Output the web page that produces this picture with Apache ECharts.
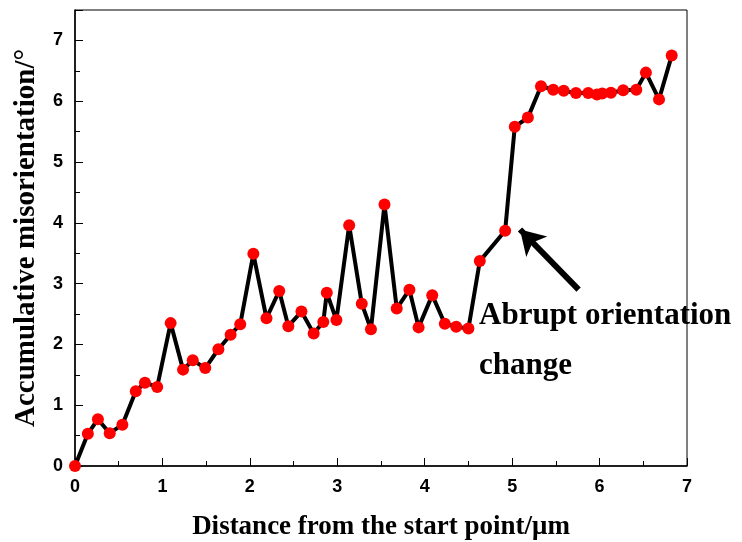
<!DOCTYPE html>
<html>
<head>
<meta charset="utf-8">
<script src="https://cdn.jsdelivr.net/npm/echarts@6/dist/echarts.min.js"></script>
<style>
  html, body { margin: 0; padding: 0; background: #fff; }
  #chart { width: 742px; height: 542px; }
</style>
</head>
<body>
<div id="chart"></div>
<script>
// distance from the start point (um)
var distance = [0, 0.147, 0.262, 0.397, 0.542, 0.695, 0.80, 0.94, 1.094, 1.236,
  1.347, 1.49, 1.64, 1.78, 1.89, 2.04, 2.19, 2.336, 2.44, 2.59,
  2.73, 2.84, 2.88, 2.99, 3.136, 3.28, 3.385, 3.54, 3.68, 3.825,
  3.93, 4.086, 4.23, 4.36, 4.50, 4.63, 4.92, 5.03, 5.18, 5.33,
  5.47, 5.59, 5.73, 5.87, 5.97, 6.03, 6.13, 6.27, 6.42, 6.53,
  6.68, 6.825];
// accumulative misorientation (deg)
var misorientation = [0, 0.53, 0.77, 0.54, 0.68, 1.23, 1.37, 1.30, 2.35, 1.585,
  1.74, 1.61, 1.92, 2.16, 2.33, 3.49, 2.43, 2.88, 2.30, 2.54,
  2.18, 2.37, 2.85, 2.40, 3.96, 2.67, 2.25, 4.30, 2.59, 2.90,
  2.28, 2.81, 2.34, 2.29, 2.26, 3.37, 3.87, 5.58, 5.73, 6.245,
  6.19, 6.17, 6.135, 6.135, 6.11, 6.125, 6.14, 6.18, 6.19, 6.47,
  6.03, 6.75];
// arrow start / end in data units
var arrowFrom = [5.76, 2.90];
var arrowTo = [5.09, 3.89];

var points = distance.map(function (d, i) { return [d, misorientation[i]]; });

var myChart = echarts.init(document.getElementById("chart"));

var tickLabel = {
  color: "#000",
  fontFamily: "Liberation Sans, Arial",
  fontWeight: "bold",
  fontSize: 18
};
var serifBold = "bold 31px 'Liberation Serif', 'Times New Roman', serif";

myChart.setOption({
  animation: false,
  grid: {
    left: 75,
    right: 55,
    top: 10,
    bottom: 76,
    outerBoundsMode: "none",
    show: true,
    borderColor: "#000",
    borderWidth: 1
  },
  xAxis: {
    type: "value",
    min: 0,
    max: 7,
    interval: 1,
    name: "Distance from the start point/\u03bcm",
    nameLocation: "middle",
    nameGap: 48,
    nameTextStyle: {
      color: "#000",
      fontFamily: "Liberation Serif, Times New Roman",
      fontWeight: "bold",
      fontSize: 27
    },
    axisLine: { lineStyle: { color: "#000", width: 1.5 } },
    axisTick: { inside: true, length: 8, lineStyle: { color: "#000" } },
    minorTick: { show: true, splitNumber: 2, length: 5, lineStyle: { color: "#000" } },
    axisLabel: Object.assign({ margin: 12 }, tickLabel),
    splitLine: { show: false }
  },
  yAxis: {
    type: "value",
    min: 0,
    max: 7.5,
    interval: 1,
    name: "Accumulative misorientation/\u00b0",
    nameLocation: "middle",
    nameGap: 34,
    nameTextStyle: {
      color: "#000",
      fontFamily: "Liberation Serif, Times New Roman",
      fontWeight: "bold",
      fontSize: 29
    },
    axisLine: { lineStyle: { color: "#000", width: 1.5 } },
    axisTick: { inside: true, length: 8, lineStyle: { color: "#000" } },
    minorTick: { show: true, splitNumber: 2, length: 5, lineStyle: { color: "#000" } },
    axisLabel: Object.assign({
      margin: 12,
      formatter: function (v) { return v % 1 === 0 ? v : ""; }
    }, tickLabel),
    splitLine: { show: false }
  },
  series: [{
    type: "line",
    data: points,
    symbol: "circle",
    symbolSize: 12,
    itemStyle: { color: "#ff0000" },
    lineStyle: { color: "#000", width: 4 },
    z: 3,
    markLine: {
      silent: true,
      symbol: ["none", "arrow"],
      symbolSize: [22, 24],
      label: { show: false },
      lineStyle: { color: "#000", width: 6, type: "solid" },
      data: [[{ coord: arrowFrom }, { coord: arrowTo }]]
    }
  }],
  graphic: [
    {
      type: "text",
      left: 479,
      top: 300,
      z: -1,
      style: { text: "Abrupt orientation", fill: "#000", font: serifBold }
    },
    {
      type: "text",
      left: 479,
      top: 350,
      z: -1,
      style: { text: "change", fill: "#000", font: serifBold }
    }
  ]
});
</script>
</body>
</html>
